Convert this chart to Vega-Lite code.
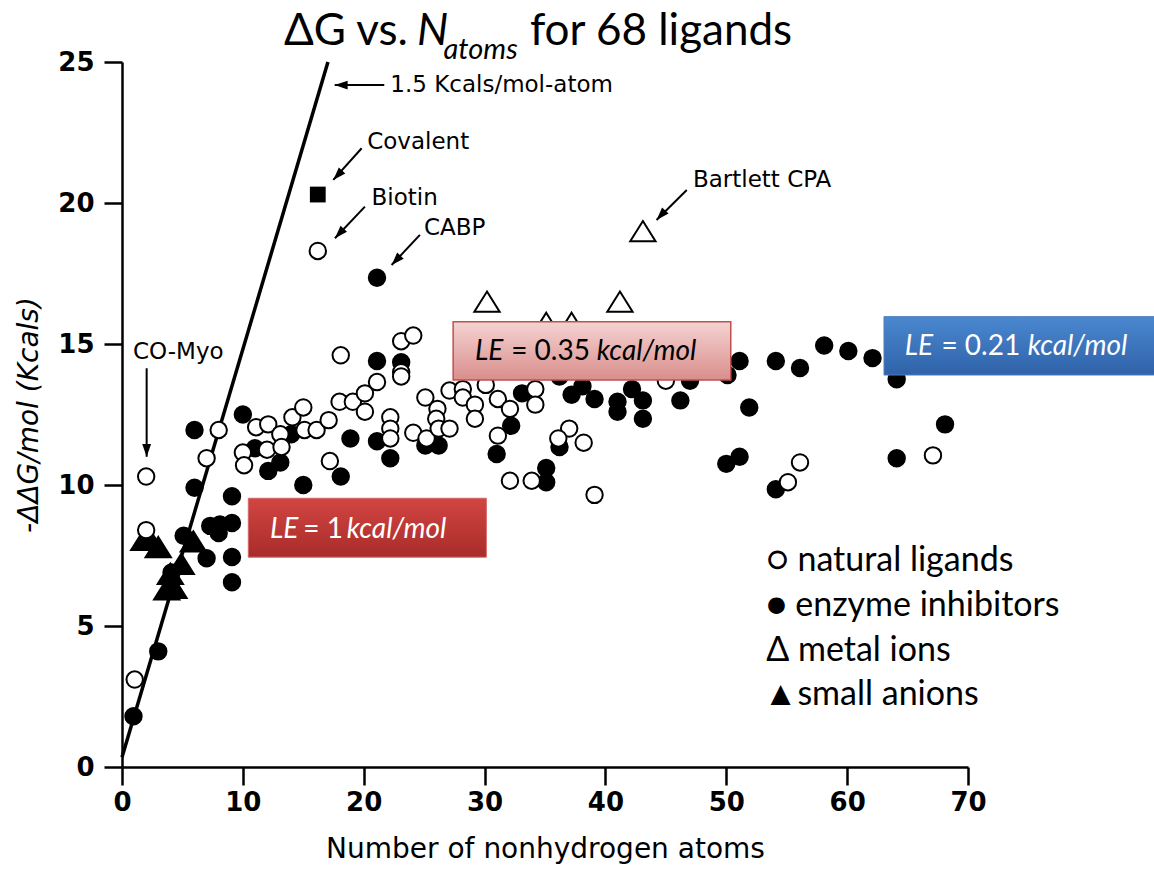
{
  "$schema": "https://vega.github.io/schema/vega-lite/v6.json",
  "width": 846,
  "height": 705,
  "autosize": {"type": "none"},
  "padding": {"left": 122, "top": 62, "right": 186, "bottom": 104},
  "background": "white",
  "config": {
    "view": {"stroke": null},
    "axis": {
      "grid": false, "domainColor": "#000", "domainWidth": 2.5, "tickColor": "#000", "tickWidth": 2.5, "tickSize": 18,
      "labelFont": "DejaVu Sans", "labelFontSize": 26, "labelFontWeight": "bold", "labelColor": "#000", "labelFlush": false, "labelOverlap": false, "labelBound": false,
      "titleFont": "DejaVu Sans", "titleFontSize": 28, "titleFontWeight": "normal", "titleColor": "#000"
    },
    "axisX": {"labelPadding": 4, "titlePadding": 20},
    "axisY": {"labelPadding": 10, "titlePadding": 14, "titleFontStyle": "italic"}
  },
  "datasets": {
    "points": [
      {"type": "anion", "n": 1.8, "dg": 8.05}, {"type": "anion", "n": 2.1, "dg": 8.2}, {"type": "anion", "n": 3.0, "dg": 7.8},
      {"type": "anion", "n": 5.9, "dg": 8.0}, {"type": "anion", "n": 4.9, "dg": 7.2}, {"type": "anion", "n": 4.0, "dg": 6.85},
      {"type": "anion", "n": 3.7, "dg": 6.3}, {"type": "anion", "n": 4.3, "dg": 6.35},
      {"type": "inhibitor", "n": 0.95, "dg": 1.8}, {"type": "inhibitor", "n": 3.0, "dg": 4.1}, {"type": "inhibitor", "n": 4.1, "dg": 6.9},
      {"type": "inhibitor", "n": 5.1, "dg": 8.2}, {"type": "inhibitor", "n": 6.0, "dg": 11.95}, {"type": "inhibitor", "n": 6.0, "dg": 9.9},
      {"type": "inhibitor", "n": 7.0, "dg": 7.4}, {"type": "inhibitor", "n": 7.3, "dg": 8.55}, {"type": "inhibitor", "n": 8.0, "dg": 8.3},
      {"type": "inhibitor", "n": 8.1, "dg": 8.6}, {"type": "inhibitor", "n": 9.1, "dg": 8.65}, {"type": "inhibitor", "n": 9.1, "dg": 7.45},
      {"type": "inhibitor", "n": 9.1, "dg": 6.55}, {"type": "inhibitor", "n": 9.1, "dg": 9.6}, {"type": "inhibitor", "n": 10.0, "dg": 12.5},
      {"type": "inhibitor", "n": 11.0, "dg": 11.3}, {"type": "inhibitor", "n": 12.1, "dg": 10.5}, {"type": "inhibitor", "n": 13.1, "dg": 10.8},
      {"type": "inhibitor", "n": 14.0, "dg": 11.8}, {"type": "inhibitor", "n": 15.0, "dg": 10.0}, {"type": "inhibitor", "n": 18.1, "dg": 10.3},
      {"type": "inhibitor", "n": 18.9, "dg": 11.65}, {"type": "inhibitor", "n": 21.1, "dg": 14.4}, {"type": "inhibitor", "n": 21.1, "dg": 11.55},
      {"type": "inhibitor", "n": 22.2, "dg": 10.95}, {"type": "inhibitor", "n": 23.1, "dg": 14.35}, {"type": "inhibitor", "n": 25.1, "dg": 11.4},
      {"type": "inhibitor", "n": 26.2, "dg": 11.4}, {"type": "inhibitor", "n": 21.1, "dg": 17.35}, {"type": "inhibitor", "n": 31.0, "dg": 11.1},
      {"type": "inhibitor", "n": 33.1, "dg": 13.25}, {"type": "inhibitor", "n": 32.2, "dg": 12.1}, {"type": "inhibitor", "n": 35.1, "dg": 10.6},
      {"type": "inhibitor", "n": 35.1, "dg": 10.1}, {"type": "inhibitor", "n": 36.2, "dg": 11.35}, {"type": "inhibitor", "n": 36.2, "dg": 13.85},
      {"type": "inhibitor", "n": 37.2, "dg": 13.2}, {"type": "inhibitor", "n": 38.1, "dg": 13.5}, {"type": "inhibitor", "n": 39.1, "dg": 13.05},
      {"type": "inhibitor", "n": 41.0, "dg": 12.95}, {"type": "inhibitor", "n": 41.0, "dg": 12.6}, {"type": "inhibitor", "n": 42.2, "dg": 13.4},
      {"type": "inhibitor", "n": 43.1, "dg": 13.0}, {"type": "inhibitor", "n": 43.1, "dg": 12.35}, {"type": "inhibitor", "n": 46.2, "dg": 13.0},
      {"type": "inhibitor", "n": 47.0, "dg": 13.7}, {"type": "inhibitor", "n": 50.1, "dg": 13.9}, {"type": "inhibitor", "n": 51.1, "dg": 14.4},
      {"type": "inhibitor", "n": 51.9, "dg": 12.75}, {"type": "inhibitor", "n": 50.0, "dg": 10.75}, {"type": "inhibitor", "n": 51.1, "dg": 11.0},
      {"type": "inhibitor", "n": 54.1, "dg": 14.4}, {"type": "inhibitor", "n": 56.1, "dg": 14.15}, {"type": "inhibitor", "n": 58.1, "dg": 14.95},
      {"type": "inhibitor", "n": 60.1, "dg": 14.75}, {"type": "inhibitor", "n": 62.1, "dg": 14.5}, {"type": "inhibitor", "n": 64.1, "dg": 13.75},
      {"type": "inhibitor", "n": 68.1, "dg": 12.15}, {"type": "inhibitor", "n": 64.1, "dg": 10.95}, {"type": "inhibitor", "n": 54.1, "dg": 9.85},
      {"type": "natural", "n": 1.05, "dg": 3.1}, {"type": "natural", "n": 2.0, "dg": 10.3}, {"type": "natural", "n": 2.0, "dg": 8.4},
      {"type": "natural", "n": 7.0, "dg": 10.95}, {"type": "natural", "n": 8.0, "dg": 11.95}, {"type": "natural", "n": 10.0, "dg": 11.15},
      {"type": "natural", "n": 10.1, "dg": 10.7}, {"type": "natural", "n": 11.1, "dg": 12.05}, {"type": "natural", "n": 12.1, "dg": 12.15},
      {"type": "natural", "n": 12.0, "dg": 11.25}, {"type": "natural", "n": 13.1, "dg": 11.8}, {"type": "natural", "n": 13.2, "dg": 11.35},
      {"type": "natural", "n": 14.1, "dg": 12.4}, {"type": "natural", "n": 15.0, "dg": 12.75}, {"type": "natural", "n": 15.1, "dg": 11.95},
      {"type": "natural", "n": 16.1, "dg": 11.95}, {"type": "natural", "n": 17.1, "dg": 12.3}, {"type": "natural", "n": 17.2, "dg": 10.85},
      {"type": "natural", "n": 18.0, "dg": 12.95}, {"type": "natural", "n": 18.1, "dg": 14.6}, {"type": "natural", "n": 19.1, "dg": 12.95},
      {"type": "natural", "n": 20.1, "dg": 12.6}, {"type": "natural", "n": 20.1, "dg": 13.25}, {"type": "natural", "n": 21.1, "dg": 13.65},
      {"type": "natural", "n": 22.2, "dg": 12.4}, {"type": "natural", "n": 22.2, "dg": 12.0}, {"type": "natural", "n": 22.2, "dg": 11.65},
      {"type": "natural", "n": 23.1, "dg": 15.1}, {"type": "natural", "n": 24.1, "dg": 15.3}, {"type": "natural", "n": 23.1, "dg": 14.0},
      {"type": "natural", "n": 23.1, "dg": 13.85}, {"type": "natural", "n": 24.1, "dg": 11.85}, {"type": "natural", "n": 25.1, "dg": 13.1},
      {"type": "natural", "n": 25.2, "dg": 11.65}, {"type": "natural", "n": 26.1, "dg": 12.7}, {"type": "natural", "n": 26.0, "dg": 12.35},
      {"type": "natural", "n": 26.2, "dg": 12.0}, {"type": "natural", "n": 27.1, "dg": 12.0}, {"type": "natural", "n": 27.1, "dg": 13.35},
      {"type": "natural", "n": 28.2, "dg": 13.4}, {"type": "natural", "n": 28.2, "dg": 13.1}, {"type": "natural", "n": 29.2, "dg": 12.85},
      {"type": "natural", "n": 29.2, "dg": 12.35}, {"type": "natural", "n": 30.1, "dg": 13.55}, {"type": "natural", "n": 31.1, "dg": 13.05},
      {"type": "natural", "n": 32.1, "dg": 12.7}, {"type": "natural", "n": 31.1, "dg": 11.75}, {"type": "natural", "n": 34.2, "dg": 13.4},
      {"type": "natural", "n": 34.2, "dg": 12.85}, {"type": "natural", "n": 32.1, "dg": 10.15}, {"type": "natural", "n": 33.9, "dg": 10.15},
      {"type": "natural", "n": 37.0, "dg": 12.0}, {"type": "natural", "n": 36.1, "dg": 11.65}, {"type": "natural", "n": 38.2, "dg": 11.5},
      {"type": "natural", "n": 39.1, "dg": 9.65}, {"type": "natural", "n": 45.0, "dg": 13.7}, {"type": "natural", "n": 55.1, "dg": 10.1},
      {"type": "natural", "n": 56.1, "dg": 10.8}, {"type": "natural", "n": 67.1, "dg": 11.05}, {"type": "natural", "n": 16.2, "dg": 18.3},
      {"type": "metal", "n": 30.2, "dg": 16.5}, {"type": "metal", "n": 35.1, "dg": 15.75}, {"type": "metal", "n": 37.2, "dg": 15.75},
      {"type": "metal", "n": 41.2, "dg": 16.5}, {"type": "metal", "n": 43.1, "dg": 19.0},
      {"type": "covalent", "n": 16.2, "dg": 20.3}
    ],
    "fitline": [{"n": 0, "dg": 0.35, "n2": 17.04, "dg2": 25}],
    "arrows": [
      {"dir": "left", "n": 17.6, "dg": 24.18, "n2": 21.7, "dg2": 24.18},
      {"dir": "down", "n": 2.04, "dg": 11.0, "n2": 2.04, "dg2": 14.14},
      {"dir": "diag", "n": 17.48, "dg": 20.82, "n2": 19.83, "dg2": 21.94},
      {"dir": "diag", "n": 17.62, "dg": 18.75, "n2": 20.1, "dg2": 19.87},
      {"dir": "diag", "n": 22.31, "dg": 17.8, "n2": 24.65, "dg2": 18.87},
      {"dir": "diag", "n": 44.23, "dg": 19.4, "n2": 46.73, "dg2": 20.46}
    ],
    "labels": [
      {"text": "1.5 Kcals/mol-atom", "n": 22.2, "dg": 24.18},
      {"text": "Covalent", "n": 20.29, "dg": 22.17},
      {"text": "Biotin", "n": 20.65, "dg": 20.17},
      {"text": "CABP", "n": 24.98, "dg": 19.1},
      {"text": "Bartlett CPA", "n": 47.24, "dg": 20.82},
      {"text": "CO-Myo", "n": 0.91, "dg": 14.72}
    ],
    "boxes": [
      {"box": "LE1", "n": 10.45, "n2": 30.15, "dg": 9.53, "dg2": 7.44},
      {"box": "LE2", "n": 27.4, "n2": 50.37, "dg": 15.79, "dg2": 13.72},
      {"box": "LE3", "n": 63.05, "n2": 85.5, "dg": 15.97, "dg2": 13.9}
    ],
    "boxtext": [
      {"box": "LE1", "part": "symbol", "text": "LE", "n": 12.24, "dg": 8.42},
      {"box": "LE1", "part": "value", "text": "= 1", "n": 15.0, "dg": 8.42},
      {"box": "LE1", "part": "unit", "text": "kcal/mol", "n": 18.6, "dg": 8.42},
      {"box": "LE2", "part": "symbol", "text": "LE", "n": 29.2, "dg": 14.72},
      {"box": "LE2", "part": "value", "text": "= 0.35", "n": 32.2, "dg": 14.72},
      {"box": "LE2", "part": "unit", "text": "kcal/mol", "n": 39.29, "dg": 14.72},
      {"box": "LE3", "part": "symbol", "text": "LE", "n": 64.76, "dg": 14.9},
      {"box": "LE3", "part": "value", "text": "= 0.21", "n": 67.8, "dg": 14.9},
      {"box": "LE3", "part": "unit", "text": "kcal/mol", "n": 74.94, "dg": 14.9}
    ],
    "legend": [
      {"text": "○ natural ligands", "n": 53.3, "dg": 7.3},
      {"text": "● enzyme inhibitors", "n": 53.3, "dg": 5.71},
      {"text": "Δ metal ions", "n": 53.3, "dg": 4.11},
      {"text": "▲small anions", "n": 53.1, "dg": 2.55}
    ],
    "title": [
      {"part": "main", "text": "ΔG vs.", "n": 13.4, "dg": 25.6},
      {"part": "var", "text": "N", "n": 24.4, "dg": 25.6},
      {"part": "sub", "text": "atoms", "n": 26.6, "dg": 25.1},
      {"part": "main", "text": "for 68 ligands", "n": 33.75, "dg": 25.6}
    ]
  },
  "encoding": {
    "x": {"field": "n", "type": "quantitative", "scale": {"domain": [0, 70], "nice": false, "zero": false},
      "axis": {"title": "Number of nonhydrogen atoms", "values": [0, 10, 20, 30, 40, 50, 60, 70]}},
    "y": {"field": "dg", "type": "quantitative", "scale": {"domain": [0, 25], "nice": false, "zero": false},
      "axis": {"title": "-ΔΔG/mol (Kcals)", "values": [0, 5, 10, 15, 20, 25]}}
  },
  "layer": [
    {
      "data": {"name": "fitline"},
      "mark": {"type": "rule", "strokeWidth": 3.5, "color": "#000"},
      "encoding": {"x2": {"field": "n2"}, "y2": {"field": "dg2"}}
    },
    {
      "data": {"name": "points"},
      "transform": [{"filter": "datum.type === 'anion' || datum.type === 'metal'"}],
      "mark": {"type": "point", "shape": "M0,-0.8L1,0.8L-1,0.8Z", "size": 640, "filled": true, "stroke": "#000", "strokeWidth": 2, "opacity": 1},
      "encoding": {
        "fill": {"field": "type", "type": "nominal", "legend": null,
          "scale": {"domain": ["metal", "anion"], "range": ["#ffffff", "#000000"]}}
      }
    },
    {
      "data": {"name": "points"},
      "transform": [{"filter": "datum.type === 'natural' || datum.type === 'inhibitor'"}],
      "mark": {"type": "point", "shape": "circle", "size": 270, "filled": true, "stroke": "#000", "strokeWidth": 2, "opacity": 1},
      "encoding": {
        "fill": {"field": "type", "type": "nominal", "legend": null,
          "scale": {"domain": ["natural", "inhibitor"], "range": ["#ffffff", "#000000"]}}
      }
    },
    {
      "data": {"name": "points"},
      "transform": [{"filter": "datum.type === 'covalent'"}],
      "mark": {"type": "point", "shape": "square", "size": 250, "filled": true, "color": "#000", "opacity": 1}
    },
    {
      "data": {"name": "arrows"},
      "mark": {"type": "rule", "strokeWidth": 2, "color": "#000"},
      "encoding": {"x2": {"field": "n2"}, "y2": {"field": "dg2"}}
    },
    {
      "data": {"name": "arrows"},
      "transform": [{"filter": "datum.dir === 'left'"}],
      "mark": {"type": "point", "shape": "M0,0L-0.55,1.6L0.55,1.6Z", "size": 260, "filled": true, "color": "#000", "opacity": 1, "angle": 270}
    },
    {
      "data": {"name": "arrows"},
      "transform": [{"filter": "datum.dir === 'down'"}],
      "mark": {"type": "point", "shape": "M0,0L-0.55,1.6L0.55,1.6Z", "size": 260, "filled": true, "color": "#000", "opacity": 1, "angle": 180}
    },
    {
      "data": {"name": "arrows"},
      "transform": [{"filter": "datum.dir === 'diag'"}],
      "mark": {"type": "point", "shape": "M0,0L-0.55,1.6L0.55,1.6Z", "size": 260, "filled": true, "color": "#000", "opacity": 1, "angle": 223}
    },
    {
      "data": {"name": "labels"},
      "mark": {"type": "text", "align": "left", "baseline": "middle", "font": "DejaVu Sans", "fontSize": 23, "color": "#000"},
      "encoding": {"text": {"field": "text"}}
    },
    {
      "data": {"name": "boxes"},
      "transform": [{"filter": "datum.box === 'LE1'"}],
      "mark": {"type": "rect", "stroke": "#d46a68", "strokeWidth": 1,
        "fill": {"gradient": "linear", "x1": 0, "y1": 0, "x2": 0, "y2": 1,
          "stops": [{"offset": 0, "color": "#d24542"}, {"offset": 1, "color": "#a82c2a"}]}},
      "encoding": {"x2": {"field": "n2"}, "y2": {"field": "dg2"}}
    },
    {
      "data": {"name": "boxes"},
      "transform": [{"filter": "datum.box === 'LE2'"}],
      "mark": {"type": "rect", "stroke": "#c0504d", "strokeWidth": 1.5,
        "fill": {"gradient": "linear", "x1": 0, "y1": 0, "x2": 0, "y2": 1,
          "stops": [{"offset": 0, "color": "#f4d3d2"}, {"offset": 1, "color": "#d98e8c"}]}},
      "encoding": {"x2": {"field": "n2"}, "y2": {"field": "dg2"}}
    },
    {
      "data": {"name": "boxes"},
      "transform": [{"filter": "datum.box === 'LE3'"}],
      "mark": {"type": "rect", "stroke": "#4a7ebb", "strokeWidth": 1,
        "fill": {"gradient": "linear", "x1": 0, "y1": 0, "x2": 0, "y2": 1,
          "stops": [{"offset": 0, "color": "#4a88d0"}, {"offset": 1, "color": "#2f62a8"}]}},
      "encoding": {"x2": {"field": "n2"}, "y2": {"field": "dg2"}}
    },
    {
      "data": {"name": "boxtext"},
      "transform": [{"filter": "datum.part !== 'value'"}],
      "mark": {"type": "text", "align": "left", "baseline": "middle", "font": "Lato", "fontSize": 28, "fontStyle": "italic"},
      "encoding": {
        "text": {"field": "text"},
        "color": {"field": "box", "type": "nominal", "legend": null,
          "scale": {"domain": ["LE1", "LE2", "LE3"], "range": ["#ffffff", "#000000", "#ffffff"]}}
      }
    },
    {
      "data": {"name": "boxtext"},
      "transform": [{"filter": "datum.part === 'value'"}],
      "mark": {"type": "text", "align": "left", "baseline": "middle", "font": "Lato", "fontSize": 28},
      "encoding": {
        "text": {"field": "text"},
        "color": {"field": "box", "type": "nominal", "legend": null,
          "scale": {"domain": ["LE1", "LE2", "LE3"], "range": ["#ffffff", "#000000", "#ffffff"]}}
      }
    },
    {
      "data": {"name": "legend"},
      "mark": {"type": "text", "align": "left", "baseline": "middle", "font": "Lato", "fontSize": 34, "color": "#000"},
      "encoding": {"text": {"field": "text"}}
    },
    {
      "data": {"name": "title"},
      "transform": [{"filter": "datum.part === 'main'"}],
      "mark": {"type": "text", "align": "left", "baseline": "alphabetic", "font": "Lato", "fontSize": 44, "color": "#000"},
      "encoding": {"text": {"field": "text"}}
    },
    {
      "data": {"name": "title"},
      "transform": [{"filter": "datum.part === 'var'"}],
      "mark": {"type": "text", "align": "left", "baseline": "alphabetic", "font": "Lato", "fontSize": 44, "fontStyle": "italic", "color": "#000"},
      "encoding": {"text": {"field": "text"}}
    },
    {
      "data": {"name": "title"},
      "transform": [{"filter": "datum.part === 'sub'"}],
      "mark": {"type": "text", "align": "left", "baseline": "alphabetic", "font": "Lato", "fontSize": 29, "fontStyle": "italic", "color": "#000"},
      "encoding": {"text": {"field": "text"}}
    }
  ]
}
